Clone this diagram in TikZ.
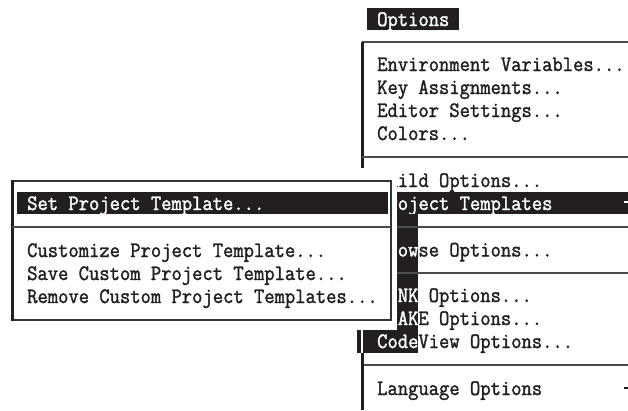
\documentclass[tikz,border=0pt]{standalone}
\usepackage{fontspec}
\newfontfamily\dos[FakeStretch=0.91,FakeBold=1.6]{Latin Modern Mono}
\definecolor{ink}{HTML}{231F20}
\begin{document}
\begin{tikzpicture}[x=1pt,y=-1pt,
  txt/.style={anchor=base west,inner sep=0pt,font=\dos\fontsize{22}{23}\selectfont,text=ink},
  inv/.style={txt,text=white},
  sepline/.style={line width=1.6pt,draw=black!70},
  edgeline/.style={line width=3pt,draw=ink},
  boxline/.style={line width=1.4pt,draw=black!80}]
\useasboundingbox (0,0) rectangle (628,410);
\fill[white] (0,0) rectangle (628,410);
% ---- Options title
\fill[ink] (367,8) rectangle (459,30);
\node[inv] (title) at (377,26) {Options};
% ---- Options menu
\fill[ink] (363,192) rectangle (628,214);
\draw[sepline] (362,42) -- (628,42);
\draw[edgeline] (362,42) -- (362,170);
\draw[sepline] (362,157) -- (628,157);
\draw[sepline] (362,365) -- (628,365);
\node[txt] (env) at (377,71) {Environment Variables...};
\node[txt] (key) at (377,94) {Key Assignments...};
\node[txt] (edi) at (377,117) {Editor Settings...};
\node[txt] (col) at (377,140) {Colors...};
\node[txt] (bld) at (377,187) {Build Options...};
\node[inv] (prj) at (377,210) {Project Templates};
\node[txt] (brw) at (377,256.5) {Browse Options...};
\node[txt] (lnk) at (377,302) {LINK Options...};
\node[txt] (nmk) at (377,325) {NMAKE Options...};
\node[txt] (cvw) at (377,348) {CodeView Options...};
\node[txt] (lng) at (377,395) {Language Options};
% ---- area cleared by the submenu
\fill[white] (0,168) rectangle (397.4,330);
% ---- inverse column
\fill[ink] (397.4,214) rectangle (417.8,353);
\fill[ink] (363,330) rectangle (417.8,353);
\fill[ink] (357,330) rectangle (360.5,353);
\begin{scope}
\clip (397.4,214) rectangle (417.8,353) (363,330) rectangle (417.8,353);
\node[inv] (brwi) at (377,256.5) {Browse Options...};
\node[inv] (lnki) at (377,302) {LINK Options...};
\node[inv] (nmki) at (377,325) {NMAKE Options...};
\node[inv] (cvwi) at (377,348) {CodeView Options...};
\end{scope}
\draw[sepline] (397.4,227) -- (628,227);
\draw[sepline] (397.4,273) -- (628,273);
\draw[edgeline] (362,353) -- (362,410);
% ---- arrow marks
\coordinate (pa) at (624,202);
\coordinate (pb) at (628,202);
\coordinate (la) at (624,388);
\coordinate (lb) at (628,388);
\draw[white,line width=1.5pt] (pa) -- (pb);
\draw[ink,line width=1.5pt] (la) -- (lb);
% ---- submenu
\draw[boxline] (12,181) -- (391,181) -- (391,320) -- (12,320);
\draw[edgeline] (12,180) -- (12,321);
\fill[ink] (17,192) rectangle (388,214);
\draw[sepline] (12,227) -- (391,227);
\node[inv] (set) at (27,210) {Set Project Template...};
\node[txt] (cus) at (27,257) {Customize Project Template...};
\node[txt] (sav) at (27,280) {Save Custom Project Template...};
\node[txt] (rem) at (27,303) {Remove Custom Project Templates...};
\end{tikzpicture}
\end{document}
